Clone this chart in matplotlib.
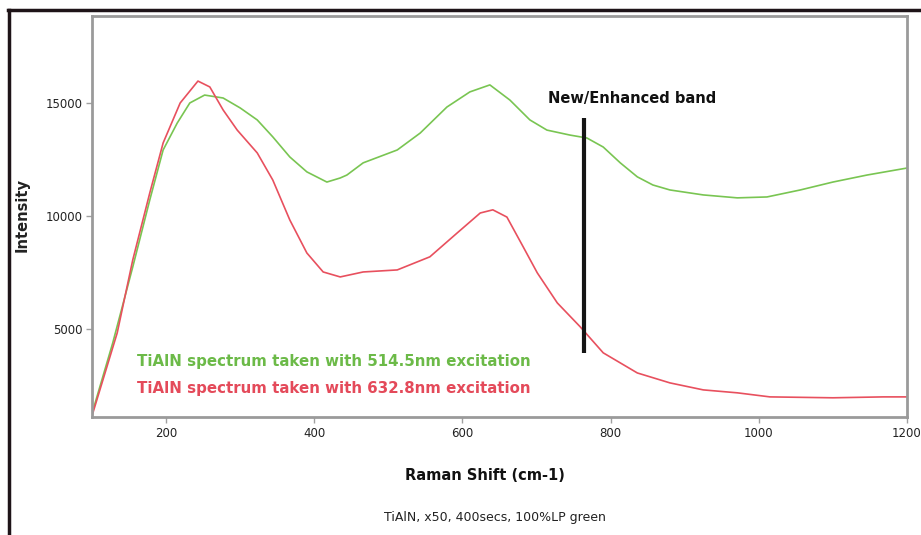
import matplotlib
matplotlib.use('Agg')
import matplotlib.pyplot as plt
from matplotlib.lines import Line2D

# Raman spectra of TiAlN
shift_514 = [100, 128, 155, 178, 196, 215, 232, 252, 277, 300, 323, 344, 367, 390,
             417, 435, 444, 466, 512, 543, 579, 610, 637, 664, 691, 714, 745, 768,
             790, 813, 836, 857, 880, 925, 971, 1011, 1056, 1100, 1146, 1200]
intensity_514 = [1250, 4380, 7740, 10710, 12920, 14110, 15000, 15350, 15220, 14780,
                 14250, 13500, 12610, 11950, 11500, 11680, 11810, 12350, 12920, 13670,
                 14820, 15490, 15800, 15130, 14250, 13800, 13580, 13450, 13050, 12350,
                 11730, 11370, 11150, 10930, 10800, 10840, 11150, 11500, 11810, 12120]

shift_632 = [100, 134, 155, 178, 196, 219, 243, 259, 277, 296, 323, 344, 367, 390,
             412, 435, 466, 512, 556, 593, 624, 641, 660, 682, 701, 728, 759, 790,
             836, 880, 925, 971, 1015, 1100, 1168, 1200]
intensity_632 = [1150, 4820, 8050, 11020, 13230, 15000, 15970, 15710, 14690, 13800,
                 12790, 11590, 9820, 8360, 7520, 7300, 7520, 7610, 8190, 9250, 10130,
                 10270, 9950, 8630, 7480, 6150, 5090, 3940, 3050, 2610, 2300, 2170,
                 1990, 1950, 1990, 1990]

band_position = 764
band_low, band_high = 3940, 14340

xticks = [200, 400, 600, 800, 1000, 1200]
yticks = [5000, 10000, 15000]

green = '#79c552'
red = '#e8505e'

fig = plt.figure(figsize=(9.21, 5.35), dpi=100)
ax = fig.add_axes([92 / 921, 1 - 417 / 535, 815 / 921, 401 / 535])

ax.plot(shift_514, intensity_514, color=green, lw=1.2)
ax.plot(shift_632, intensity_632, color=red, lw=1.2)

# marker for the new band
ax.plot([band_position, band_position], [band_low, band_high], color='#151515', lw=3,
        solid_capstyle='butt')
ax.text(715, 15220, 'New/Enhanced band', fontsize=10.5, fontweight='bold',
        color='#111111', va='center')

ax.text(161, 3540, 'TiAlN spectrum taken with 514.5nm excitation', fontsize=10.8,
        fontweight='bold', color='#6cba48', va='center')
ax.text(161, 2345, 'TiAlN spectrum taken with 632.8nm excitation', fontsize=10.8,
        fontweight='bold', color='#e44a5a', va='center')

ax.set_xlim(100, 1200)
ax.set_ylim(1100, 18850)
ax.set_xticks(xticks)
ax.set_yticks(yticks)
ax.tick_params(length=4, width=1, color='#a0a0a0', labelsize=8.5, labelcolor='#222222', pad=3)
for s in ax.spines.values():
    s.set_color('#9a9a9a')
    s.set_linewidth(2)

fig.text(22 / 921, 1 - 215 / 535, 'Intensity', rotation=90, ha='center', va='center',
         fontsize=10.5, fontweight='bold', color='#222222')
fig.text(485 / 921, 1 - 476 / 535, 'Raman Shift (cm-1)', ha='center', va='center',
         fontsize=10.5, fontweight='bold', color='#111111')
fig.text(495 / 921, 1 - 518 / 535, 'TiAlN, x50, 400secs, 100%LP green', ha='center',
         va='center', fontsize=9, color='#222222')

# dark frame along the top and left edges
fig.add_artist(Line2D([9 / 921, 9 / 921], [0, 1 - 10 / 535], transform=fig.transFigure,
                      color='#1e1418', lw=2.5))
fig.add_artist(Line2D([8 / 921, 1], [1 - 10 / 535, 1 - 10 / 535], transform=fig.transFigure,
                      color='#1e1418', lw=2.5))

fig.savefig('out.png', dpi=100)
